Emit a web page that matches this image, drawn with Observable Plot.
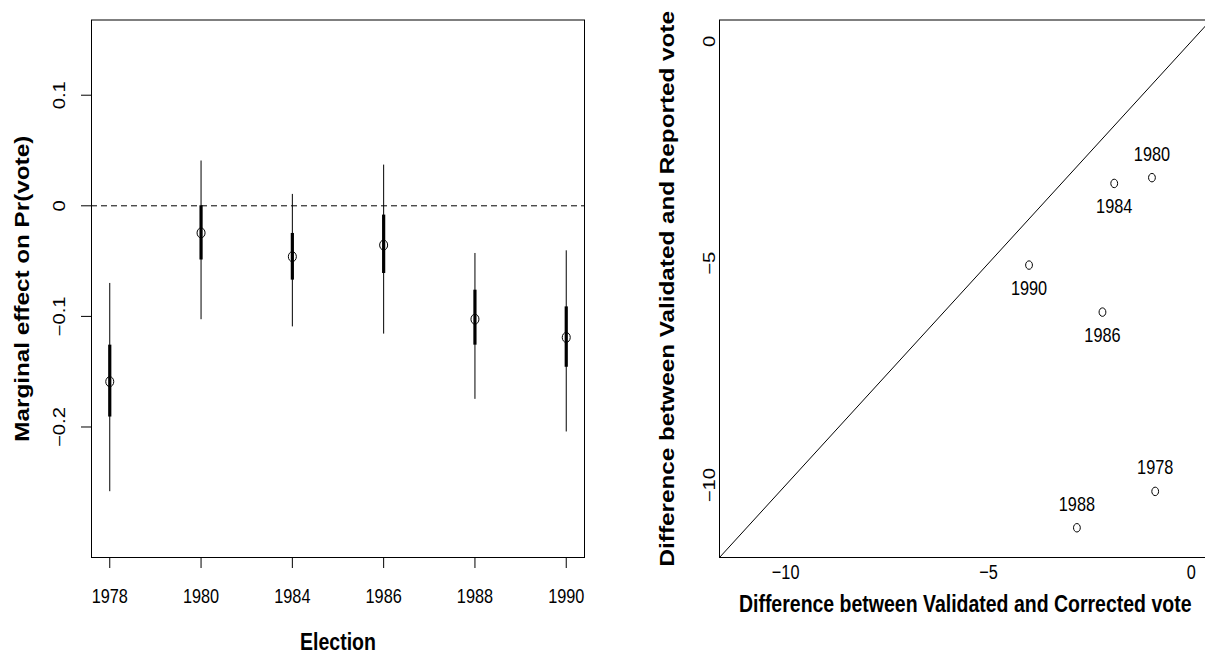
<!DOCTYPE html>
<html><head><meta charset="utf-8">
<script src="https://cdn.jsdelivr.net/npm/d3@7"></script>
<script src="https://cdn.jsdelivr.net/npm/@observablehq/plot@0.6"></script>
<style>
html,body{margin:0;padding:0;background:#fff;}
#page{position:relative;width:1205px;height:656px;overflow:hidden;background:#fff;}
#left{position:absolute;left:0;top:0;width:620px;height:656px;}
#right{position:absolute;left:620px;top:0;width:620px;height:656px;}
#page svg{max-width:none !important;}
</style></head><body><div id="page"><div id="left"></div><div id="right"></div></div>
<script>
// ---- Left panel data: marginal effect by election ----
const elections = ["1978","1980","1984","1986","1988","1990"];
const effect     = [-0.159, -0.0245, -0.046, -0.0355, -0.1025, -0.119];
const innerLow   = [-0.191, -0.049, -0.0672, -0.0612, -0.126, -0.146];
const innerHigh  = [-0.126,  0.000, -0.025, -0.0084, -0.0763, -0.0914];
const outerLow   = [-0.2585, -0.103, -0.1095, -0.116, -0.175, -0.2045];
const outerHigh  = [-0.0702, 0.0405, 0.0103, 0.0368, -0.0431, -0.0407];
const effectTicks = [0.1, 0, -0.1, -0.2];
const effectDomain = [-0.318, 0.168];
const positionDomain = [0.8, 6.2];

// ---- Right panel data: validated vs reported / corrected ----
const pointYears    = ["1980","1984","1990","1986","1978","1988"];
const correctedDiff = [-0.97, -1.90, -4.00, -2.19, -0.89, -2.82];
const reportedDiff  = [-3.07, -3.20, -5.04, -6.10, -10.14, -10.96];
const labelSide     = ["above","below","below","below","above","above"];
const diffTicks = [-10, -5, 0];
const diffDomain = [-11.63, 0.483];
const refLine = {intercept: 0, slope: 1};

const FONT = "'Liberation Sans', Arial, Helvetica, sans-serif";
const K = 1.245; // vertical stretch of the original figure

function fmt(d){ return d < 0 ? "\u2212" + String(Math.abs(d)) : String(d); }

function ellipseSymbol(k){
  return {draw(ctx, size){
    const r = Math.sqrt(size/Math.PI), rx = r, ry = r*k, c = 0.5523;
    ctx.moveTo(rx,0);
    ctx.bezierCurveTo(rx,c*ry,c*rx,ry,0,ry);
    ctx.bezierCurveTo(-c*rx,ry,-rx,c*ry,-rx,0);
    ctx.bezierCurveTo(-rx,-c*ry,-c*rx,-ry,0,-ry);
    ctx.bezierCurveTo(c*rx,-ry,rx,-c*ry,rx,0);
    ctx.closePath();
  }};
}

const idx = d3.range(elections.length);
const leftPlot = Plot.plot({
  width: 620, height: 656,
  marginLeft: 91, marginRight: 36, marginTop: 19.5, marginBottom: 99,
  style: {fontFamily: FONT, background: "white", color: "black", overflow: "visible", maxWidth: "none"},
  x: {domain: positionDomain},
  y: {domain: effectDomain},
  marks: [
    Plot.ruleY([0], {stroke: "black", strokeWidth: 1, strokeDasharray: "6,4"}),
    Plot.ruleX(idx, {x: i => i+1, y1: i => outerLow[i], y2: i => outerHigh[i], stroke: "black", strokeWidth: 1}),
    Plot.ruleX(idx, {x: i => i+1, y1: i => innerLow[i], y2: i => innerHigh[i], stroke: "black", strokeWidth: 3.2}),
    Plot.dot(idx, {x: i => i+1, y: i => effect[i], r: 4, symbol: ellipseSymbol(K), stroke: "black", fill: "none", strokeWidth: 1}),
    Plot.axisX({ticks: idx.map(i => i+1), tickSize: 11, tickFormat: () => "", stroke: "black", strokeOpacity: 1}),
    Plot.axisY({ticks: effectTicks, tickSize: 10, tickFormat: () => "", stroke: "black", strokeOpacity: 1}),
    Plot.text(idx, {x: i => i+1, text: i => elections[i], frameAnchor: "bottom", dy: 39, lineAnchor: "middle", fontSize: 16.3, fill: "black"}),
    Plot.text(effectTicks, {y: d => d, text: d => fmt(d), frameAnchor: "left", dx: -31.5, rotate: -90, lineAnchor: "middle", textAnchor: "middle", fontSize: 16.3, fill: "black"}),
    Plot.text(["Election"], {text: d => d, frameAnchor: "bottom", dy: 84.5, lineAnchor: "middle", fontWeight: "bold", fontSize: 19.5, fill: "black"}),
    Plot.text(["Marginal effect on Pr(vote)"], {text: d => d, frameAnchor: "left", dx: -69, rotate: -90, lineAnchor: "middle", textAnchor: "middle", fontWeight: "bold", fontSize: 19.5, fill: "black"}),
    Plot.frame({stroke: "black", strokeWidth: 1})
  ]
});

const pidx = d3.range(pointYears.length);
const lineEnds = diffDomain.map(v => ({x: v, y: refLine.intercept + refLine.slope * v}));
const rightPlot = Plot.plot({
  width: 620, height: 656,
  marginLeft: 99, marginRight: 29.6, marginTop: 19.5, marginBottom: 99,
  style: {fontFamily: FONT, background: "white", color: "black", overflow: "visible", maxWidth: "none"},
  x: {domain: diffDomain, axis: null},
  y: {domain: diffDomain, axis: null},
  marks: [
    Plot.line(lineEnds, {x: "x", y: "y", stroke: "black", strokeWidth: 1, clip: true}),
    Plot.dot(pidx, {x: i => correctedDiff[i], y: i => reportedDiff[i], r: 3.4, symbol: ellipseSymbol(K), stroke: "black", fill: "none", strokeWidth: 1}),
    Plot.text(pidx.filter(i => labelSide[i] === "above"), {x: i => correctedDiff[i], y: i => reportedDiff[i], text: i => pointYears[i], dy: -23.5, lineAnchor: "middle", fontSize: 16.3, fill: "black"}),
    Plot.text(pidx.filter(i => labelSide[i] === "below"), {x: i => correctedDiff[i], y: i => reportedDiff[i], text: i => pointYears[i], dy: 23.5, lineAnchor: "middle", fontSize: 16.3, fill: "black"}),
    Plot.text(diffTicks, {x: d => d, text: d => fmt(d), frameAnchor: "bottom", dy: 15, lineAnchor: "middle", fontSize: 16.3, fill: "black"}),
    Plot.text(diffTicks, {y: d => d, text: d => fmt(d), frameAnchor: "left", dx: -10, rotate: -90, lineAnchor: "middle", textAnchor: "middle", fontSize: 16.3, fill: "black"}),
    Plot.text(["Difference between Validated and Corrected vote"], {text: d => d, frameAnchor: "bottom", dy: 47, lineAnchor: "middle", fontWeight: "bold", fontSize: 19.5, fill: "black"}),
    Plot.text(["Difference between Validated and Reported vote"], {text: d => d, frameAnchor: "left", dx: -52, rotate: -90, lineAnchor: "middle", textAnchor: "middle", fontWeight: "bold", fontSize: 19.5, fill: "black"}),
    Plot.frame({stroke: "black", strokeWidth: 1})
  ]
});

document.getElementById("left").appendChild(leftPlot);
document.getElementById("right").appendChild(rightPlot);

// Emulate the vertically stretched lettering of the original figure:
// each label is scaled along the page's vertical direction about its anchor.
function stretchText(svg, k){
  svg.querySelectorAll("text").forEach(t => {
    if (!t.textContent.trim()) { t.remove(); return; }
    const m = t.getCTM();
    const vertical = Math.abs(m.b) > Math.abs(m.a);
    const x = parseFloat(t.getAttribute("x") || 0) || 0;
    const y = parseFloat(t.getAttribute("y") || 0) || 0;
    const prev = t.getAttribute("transform") || "";
    const sc = vertical ? `scale(${k},1)` : `scale(1,${k})`;
    t.setAttribute("transform", `${prev} translate(${x},${y}) ${sc} translate(${-x},${-y})`.trim());
  });
}
stretchText(leftPlot, K);
stretchText(rightPlot, K);
</script>
</body></html>
